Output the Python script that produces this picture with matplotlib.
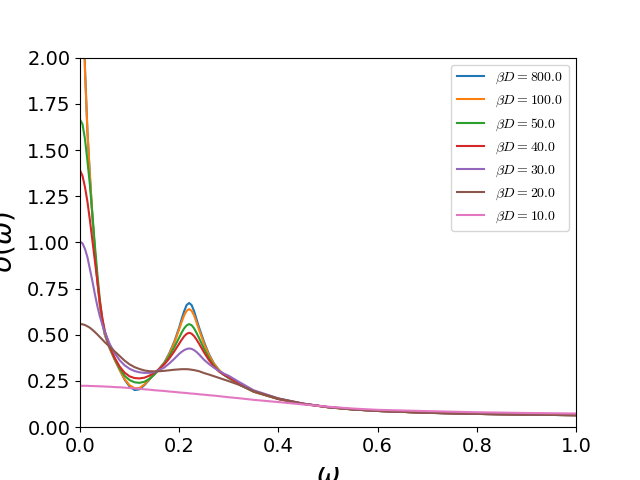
import matplotlib
matplotlib.use("Agg")
import matplotlib.pyplot as plt
from matplotlib.font_manager import FontProperties

# omega grid (denser around the features)
omega = [0, 0.005, 0.01, 0.015, 0.02, 0.025, 0.03, 0.035, 0.04, 0.045, 0.05,
         0.06, 0.07, 0.08, 0.09, 0.10, 0.11, 0.12, 0.13, 0.14, 0.15, 0.16,
         0.17, 0.18, 0.19, 0.20,
         0.205, 0.21, 0.215, 0.22, 0.225, 0.23, 0.235, 0.24,
         0.25, 0.26, 0.27, 0.28, 0.29, 0.30,
         0.32, 0.35, 0.40, 0.45, 0.50, 0.55, 0.60, 0.70, 0.80, 0.90, 1.00]

beta_d = [800.0, 100.0, 50.0, 40.0, 30.0, 20.0, 10.0]

sigma_bd800 = [3.60, 2.65, 1.95, 1.60, 1.36, 1.14, 0.95, 0.79, 0.66, 0.565, 0.50,
               0.425, 0.365, 0.31, 0.257, 0.220, 0.201, 0.205, 0.228, 0.258, 0.288,
               0.318, 0.350, 0.400, 0.462, 0.540,
               0.586, 0.628, 0.661, 0.672, 0.661, 0.628, 0.584, 0.540,
               0.462, 0.395, 0.345, 0.310, 0.284, 0.265,
               0.232, 0.192, 0.152, 0.126, 0.108, 0.096, 0.088, 0.078, 0.072, 0.068, 0.065]

sigma_bd100 = [3.00, 2.45, 1.93, 1.60, 1.36, 1.145, 0.955, 0.795, 0.665, 0.57, 0.505,
               0.428, 0.366, 0.31, 0.26, 0.227, 0.211, 0.212, 0.232, 0.26, 0.288,
               0.316, 0.348, 0.395, 0.455, 0.53,
               0.57, 0.605, 0.63, 0.639, 0.63, 0.605, 0.567, 0.527,
               0.452, 0.39, 0.343, 0.31, 0.286, 0.267,
               0.233, 0.192, 0.152, 0.126, 0.108, 0.096, 0.088, 0.078, 0.072, 0.068, 0.065]

sigma_bd50 = [1.665, 1.64, 1.56, 1.44, 1.31, 1.15, 0.985, 0.83, 0.69, 0.585, 0.515,
              0.432, 0.37, 0.318, 0.278, 0.255, 0.243, 0.240, 0.246, 0.262, 0.285,
              0.313, 0.345, 0.384, 0.432, 0.485,
              0.512, 0.535, 0.551, 0.558, 0.552, 0.535, 0.510, 0.483,
              0.425, 0.373, 0.333, 0.303, 0.283, 0.268,
              0.236, 0.193, 0.153, 0.127, 0.108, 0.096, 0.088, 0.078, 0.072, 0.068, 0.065]

sigma_bd40 = [1.39, 1.36, 1.30, 1.22, 1.12, 1.01, 0.90, 0.79, 0.68, 0.59, 0.52,
              0.435, 0.375, 0.328, 0.295, 0.275, 0.266, 0.264, 0.268, 0.279, 0.295,
              0.315, 0.34, 0.372, 0.41, 0.452,
              0.473, 0.492, 0.505, 0.511, 0.506, 0.493, 0.474, 0.452,
              0.405, 0.363, 0.328, 0.302, 0.284, 0.27,
              0.238, 0.194, 0.153, 0.127, 0.108, 0.096, 0.088, 0.078, 0.072, 0.068, 0.065]

sigma_bd30 = [1.004, 0.995, 0.965, 0.92, 0.855, 0.79, 0.72, 0.655, 0.60, 0.555, 0.515,
              0.45, 0.40, 0.362, 0.335, 0.316, 0.304, 0.297, 0.294, 0.294, 0.298,
              0.31, 0.323, 0.345, 0.37, 0.397,
              0.408, 0.417, 0.423, 0.426, 0.424, 0.417, 0.407, 0.394,
              0.365, 0.342, 0.322, 0.305, 0.29, 0.278,
              0.246, 0.20, 0.156, 0.128, 0.109, 0.097, 0.088, 0.078, 0.072, 0.068, 0.065]

sigma_bd20 = [0.558, 0.557, 0.553, 0.546, 0.538, 0.527, 0.515, 0.502, 0.488, 0.474, 0.46,
              0.435, 0.41, 0.385, 0.36, 0.34, 0.325, 0.315, 0.307, 0.303, 0.302,
              0.303, 0.305, 0.308, 0.311, 0.313,
              0.314, 0.314, 0.314, 0.313, 0.311, 0.309, 0.306, 0.303,
              0.293, 0.285, 0.276, 0.267, 0.258, 0.249,
              0.23, 0.195, 0.155, 0.127, 0.109, 0.097, 0.088, 0.078, 0.072, 0.068, 0.065]

sigma_bd10 = [0.224, 0.224, 0.224, 0.224, 0.223, 0.223, 0.222, 0.222, 0.221, 0.221, 0.220,
              0.219, 0.217, 0.216, 0.214, 0.212, 0.210, 0.208, 0.205, 0.203, 0.200,
              0.198, 0.196, 0.193, 0.191, 0.188,
              0.187, 0.186, 0.185, 0.183, 0.182, 0.181, 0.180, 0.178,
              0.176, 0.173, 0.171, 0.168, 0.165, 0.162,
              0.157, 0.148, 0.136, 0.123, 0.111, 0.101, 0.094, 0.087, 0.081, 0.077, 0.074]

curves = [sigma_bd800, sigma_bd100, sigma_bd50, sigma_bd40,
          sigma_bd30, sigma_bd20, sigma_bd10]

fig, ax = plt.subplots(figsize=(6.4, 4.8), dpi=100)

for bd, sig in zip(beta_d, curves):
    ax.plot(omega, sig, label=r'$\beta D = %.1f$' % bd)

ax.set_xlim(0, 1)
ax.set_ylim(0, 2)
ax.set_xlabel(r'$\omega$', fontsize=20)
ax.set_ylabel(r'$\sigma(\omega)$', fontsize=20, labelpad=7)
ax.tick_params(labelsize=14)

leg_font = FontProperties(size=10, math_fontfamily='cm')
ax.legend(loc='upper right', prop=leg_font)

fig.savefig('out.png', dpi=100)
